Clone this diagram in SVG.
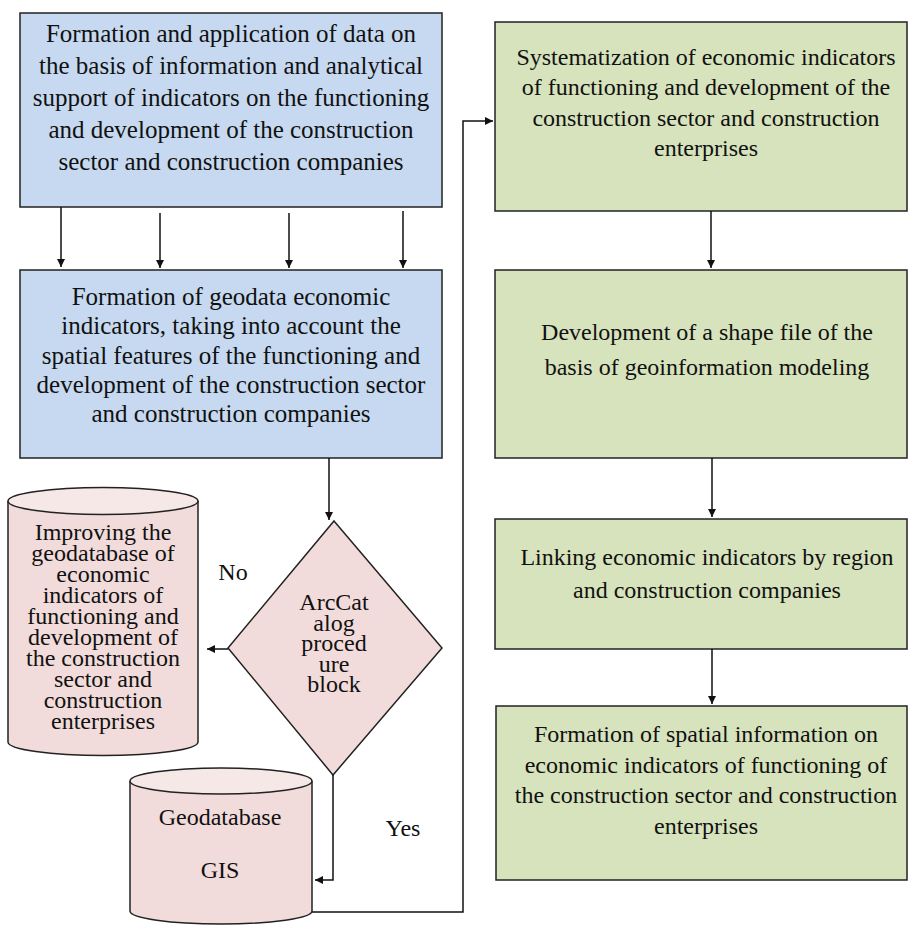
<svg xmlns="http://www.w3.org/2000/svg" width="909" height="926" viewBox="0 0 909 926" font-family="Liberation Serif">
<style>
  .blue { fill: #C6D9F0; stroke: #222; stroke-width: 1.5; }
  .green { fill: #D7E3BC; stroke: #222; stroke-width: 1.5; }
  .pink { fill: #F2DCDB; stroke: #222; stroke-width: 1.5; }
  .pinktop { fill: #F7E8E8; stroke: #222; stroke-width: 1.5; }
  .t25 { font-family: "Liberation Serif", "Times New Roman", serif; font-size: 25px; fill: #111; text-anchor: middle; }
  .t24 { font-family: "Liberation Serif", "Times New Roman", serif; font-size: 24px; fill: #111; text-anchor: middle; }
  .conn { fill: none; stroke: #111; stroke-width: 1.5; }
</style>
<defs>
  <marker id="arr" viewBox="0 0 10 10" refX="10" refY="5" markerWidth="8" markerHeight="8" markerUnits="userSpaceOnUse" orient="auto">
    <path d="M0,0 L10,5 L0,10 z" fill="#111"/>
  </marker>
</defs>

<g id="box-formation-data">
  <rect class="blue" x="20" y="13" width="422" height="194"/>
  <text class="t25" x="231" y="42">Formation and application of data on</text>
  <text class="t25" x="231" y="74">the basis of information and analytical</text>
  <text class="t25" x="231" y="106">support of indicators on the functioning</text>
  <text class="t25" x="231" y="138">and development of the construction</text>
  <text class="t25" x="231" y="170">sector and construction companies</text>
</g>

<g id="box-geodata">
  <rect class="blue" x="20" y="270" width="422" height="188"/>
  <text class="t25" x="231" y="305">Formation of geodata economic</text>
  <text class="t25" x="231" y="334">indicators, taking into account the</text>
  <text class="t25" x="231" y="363.5">spatial features of the functioning and</text>
  <text class="t25" x="231" y="392.5">development of  the construction sector</text>
  <text class="t25" x="231" y="422">and construction companies</text>
</g>

<g id="cyl-improving">
  <path class="pink" d="M8,501 V742 A95,13.5 0 0 0 198,742 V501"/>
  <ellipse class="pinktop" cx="103" cy="501" rx="95" ry="13.5"/>
  <text class="t24" x="103" y="540">Improving the</text>
  <text class="t24" x="103" y="561">geodatabase of</text>
  <text class="t24" x="103" y="582">economic</text>
  <text class="t24" x="103" y="603">indicators of</text>
  <text class="t24" x="103" y="624">functioning and</text>
  <text class="t24" x="103" y="645">development of</text>
  <text class="t24" x="103" y="666">the construction</text>
  <text class="t24" x="103" y="687">sector and</text>
  <text class="t24" x="103" y="708">construction</text>
  <text class="t24" x="103" y="729">enterprises</text>
</g>

<g id="diamond-arccatalog">
  <polygon class="pink" points="334,521 442,648 333,775 228,648"/>
  <text class="t24" x="334" y="610">ArcCat</text>
  <text class="t24" x="334" y="630.5">alog</text>
  <text class="t24" x="334" y="651">proced</text>
  <text class="t24" x="334" y="671.5">ure</text>
  <text class="t24" x="334" y="692">block</text>
</g>

<g id="cyl-geodatabase">
  <path class="pink" d="M130,781 V911 A91,13 0 0 0 312,911 V781"/>
  <ellipse class="pinktop" cx="221" cy="781" rx="91" ry="13"/>
  <text class="t24" x="220" y="825">Geodatabase</text>
  <text class="t24" x="220" y="878">GIS</text>
</g>

<g id="box-systematization">
  <rect class="green" x="495" y="22" width="412" height="189"/>
  <text class="t24" x="706" y="65">Systematization of economic indicators</text>
  <text class="t24" x="706" y="95">of functioning and development of the</text>
  <text class="t24" x="706" y="125.5">construction sector and construction</text>
  <text class="t24" x="706" y="156">enterprises</text>
</g>

<g id="box-shapefile">
  <rect class="green" x="495" y="270" width="412" height="188"/>
  <text class="t24" x="707" y="340">Development of a shape file of the</text>
  <text class="t24" x="707" y="375">basis of geoinformation modeling</text>
</g>

<g id="box-linking">
  <rect class="green" x="495" y="519" width="412" height="130"/>
  <text class="t24" x="707" y="565">Linking economic indicators by region</text>
  <text class="t24" x="707" y="598">and construction companies</text>
</g>

<g id="box-spatial">
  <rect class="green" x="496" y="706" width="411" height="174"/>
  <text class="t24" x="706" y="742">Formation of spatial information on</text>
  <text class="t24" x="706" y="772.5">economic indicators of functioning of</text>
  <text class="t24" x="706" y="803">the construction sector and construction</text>
  <text class="t24" x="706" y="834">enterprises</text>
</g>

<g id="labels">
  <text class="t24" x="233" y="580">No</text>
  <text class="t24" x="403" y="836">Yes</text>
</g>

<g id="connectors">
  <line class="conn" x1="61" y1="207" x2="61" y2="267" marker-end="url(#arr)"/>
  <line class="conn" x1="160" y1="213" x2="160" y2="268" marker-end="url(#arr)"/>
  <line class="conn" x1="289" y1="213" x2="289" y2="268" marker-end="url(#arr)"/>
  <line class="conn" x1="403" y1="211" x2="403" y2="268" marker-end="url(#arr)"/>
  <line class="conn" x1="329" y1="458" x2="329" y2="520" marker-end="url(#arr)"/>
  <line class="conn" x1="228" y1="649" x2="207" y2="649" marker-end="url(#arr)"/>
  <polyline class="conn" points="333,775 333,880 315,880" marker-end="url(#arr)"/>
  <polyline class="conn" points="312,912 463,912 463,121 493,121" marker-end="url(#arr)"/>
  <line class="conn" x1="711" y1="211" x2="711" y2="268" marker-end="url(#arr)"/>
  <line class="conn" x1="712" y1="458" x2="712" y2="517" marker-end="url(#arr)"/>
  <line class="conn" x1="712" y1="649" x2="712" y2="704" marker-end="url(#arr)"/>
</g>
</svg>
